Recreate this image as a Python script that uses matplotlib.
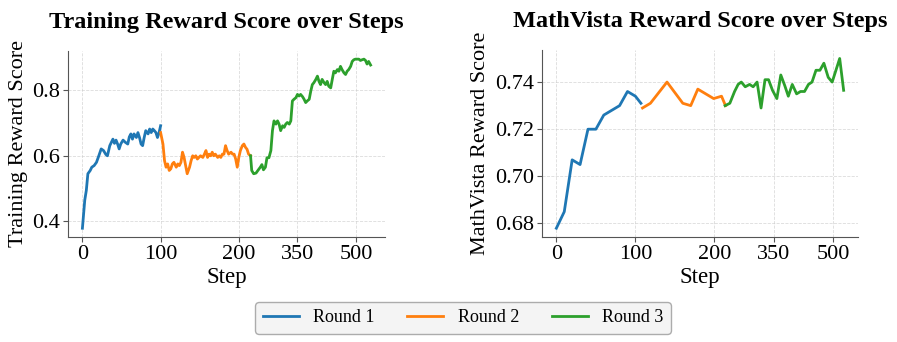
import numpy as np
import matplotlib
matplotlib.use("Agg")
import matplotlib.pyplot as plt

plt.rcParams["font.family"] = ["Liberation Serif", "DejaVu Serif"]

# training reward, per round
train_r1_steps = [0, 3, 5, 7, 10, 12, 15, 18, 21, 24, 27, 30, 32, 35, 37, 39, 41, 43, 45, 47,
                  49, 52, 55, 58, 60, 62, 64, 66, 69, 71, 73, 75, 77, 79, 81, 84, 86, 88, 90, 92,
                  94, 96, 98, 100]
train_r1 = [0.378, 0.464, 0.494, 0.545, 0.555, 0.565, 0.570, 0.580, 0.600, 0.621, 0.616, 0.604,
            0.600, 0.631, 0.641, 0.651, 0.638, 0.648, 0.636, 0.621, 0.636, 0.648, 0.641, 0.636,
            0.658, 0.667, 0.651, 0.667, 0.656, 0.671, 0.656, 0.636, 0.631, 0.656, 0.677, 0.667,
            0.682, 0.671, 0.682, 0.677, 0.671, 0.656, 0.671, 0.692]

train_r2_steps = [100, 103, 105, 107, 109, 111, 113, 115, 117, 120, 122, 124, 126, 128, 130, 132,
                  134, 137, 139, 141, 143, 145, 147, 149, 151, 154, 156, 158, 160, 162, 164, 166,
                  168, 170, 173, 175, 177, 179, 181, 183, 185, 187, 190, 192, 194, 196, 198, 200,
                  204, 209, 213, 217, 221, 225, 230]
train_r2 = [0.671, 0.636, 0.585, 0.565, 0.575, 0.555, 0.560, 0.575, 0.580, 0.565, 0.575, 0.570,
            0.580, 0.611, 0.595, 0.570, 0.545, 0.565, 0.585, 0.600, 0.595, 0.600, 0.590, 0.595,
            0.600, 0.595, 0.605, 0.616, 0.595, 0.605, 0.600, 0.611, 0.600, 0.605, 0.595, 0.600,
            0.595, 0.605, 0.605, 0.631, 0.616, 0.605, 0.611, 0.605, 0.605, 0.590, 0.565, 0.595,
            0.616, 0.631, 0.636, 0.626, 0.620, 0.605, 0.600]

train_r3_steps = [230, 233, 238, 244, 250, 255, 259, 263, 268, 272, 277, 282, 286, 290, 295, 299,
                  303, 307, 312, 316, 320, 324, 329, 333, 337, 341, 346, 350, 354, 358, 363, 367,
                  371, 375, 380, 384, 388, 392, 397, 401, 405, 409, 413, 418, 422, 426, 430, 435,
                  439, 443, 447, 452, 456, 460, 464, 469, 473, 477, 481, 486, 490, 494, 498, 503,
                  507, 511, 515, 520, 524, 528, 532, 537]
train_r3 = [0.600, 0.555, 0.545, 0.547, 0.557, 0.565, 0.573, 0.557, 0.565, 0.594, 0.594, 0.616,
            0.677, 0.707, 0.697, 0.707, 0.697, 0.677, 0.692, 0.687, 0.697, 0.702, 0.697, 0.707,
            0.768, 0.773, 0.778, 0.788, 0.783, 0.788, 0.781, 0.773, 0.763, 0.768, 0.773, 0.798,
            0.818, 0.824, 0.834, 0.844, 0.828, 0.818, 0.834, 0.824, 0.818, 0.828, 0.813, 0.808,
            0.834, 0.859, 0.854, 0.864, 0.859, 0.874, 0.864, 0.854, 0.849, 0.859, 0.864, 0.874,
            0.889, 0.894, 0.896, 0.896, 0.896, 0.892, 0.894, 0.896, 0.892, 0.881, 0.889, 0.878]

# MathVista eval reward, per round
mv_r1_steps = [0, 10, 20, 30, 40, 50, 60, 70, 80, 90, 100, 107]
mv_r1 = [0.678, 0.685, 0.707, 0.705, 0.720, 0.720, 0.726, 0.728, 0.730, 0.736, 0.734, 0.731]

mv_r2_steps = [109, 119, 140, 160, 170, 179, 199, 218, 228]
mv_r2 = [0.729, 0.731, 0.740, 0.731, 0.730, 0.737, 0.733, 0.734, 0.730]

mv_r3_steps = [227, 239, 251, 260, 268, 278, 289, 298, 308, 318, 328, 337, 347, 358, 368, 378,
               387, 397, 408, 418, 428, 438, 447, 457, 467, 477, 488, 498, 517, 527]
mv_r3 = [0.730, 0.731, 0.736, 0.739, 0.740, 0.738, 0.739, 0.738, 0.740, 0.729, 0.741, 0.741,
         0.7365, 0.733, 0.743, 0.7385, 0.734, 0.739, 0.735, 0.736, 0.736, 0.739, 0.740, 0.745,
         0.745, 0.748, 0.742, 0.740, 0.750, 0.7365]

tick_steps = [0, 100, 200, 350, 500]
round_labels = ["Round 1", "Round 2", "Round 3"]
colors = ["#1f77b4", "#ff7f0e", "#2ca02c"]


# steps past 200 are drawn at half scale
def squash(steps):
    s = np.asarray(steps, dtype=float)
    return np.where(s <= 200, s, 200 + (s - 200) / 2)


fig = plt.figure(figsize=(8.97, 3.42), dpi=100)
ax1 = fig.add_axes([68 / 897, 1 - 236.7 / 342, 317 / 897, 186 / 342])
ax2 = fig.add_axes([542 / 897, 1 - 236.7 / 342, 316 / 897, 186.7 / 342])

train = [(train_r1_steps, train_r1), (train_r2_steps, train_r2), (train_r3_steps, train_r3)]
mv = [(mv_r1_steps, mv_r1), (mv_r2_steps, mv_r2), (mv_r3_steps, mv_r3)]

for ax, series, ylabel, title in [
    (ax1, train, "Training Reward Score", "Training Reward Score over Steps"),
    (ax2, mv, "MathVista Reward Score", "MathVista Reward Score over Steps"),
]:
    for (xs, ys), c, lab in zip(series, colors, round_labels):
        ax.plot(squash(xs), ys, color=c, lw=2.0, label=lab)
    ax.set_xticks(squash(tick_steps))
    ax.set_xticklabels([str(t) for t in tick_steps])
    ax.set_xlabel("Step", fontsize=16.5, labelpad=2)
    ax.set_ylabel(ylabel, fontsize=16, labelpad=3)
    ax.set_title(title, fontsize=17.5, fontweight="bold", pad=16.5)
    ax.tick_params(labelsize=16, length=3.5, color="#555555", pad=2.5)
    ax.grid(True, ls="--", lw=0.6, color="#cccccc", alpha=0.7)
    ax.spines["top"].set_visible(False)
    ax.spines["right"].set_visible(False)
    for sp in ("left", "bottom"):
        ax.spines[sp].set_color("#555555")

ax1.set_yticks([0.4, 0.6, 0.8])
ax2.set_yticks([0.68, 0.70, 0.72, 0.74])

handles, labels = ax1.get_legend_handles_labels()
fig.legend(handles, labels, loc="center", bbox_to_anchor=(463 / 897, 1 - 318 / 342),
           ncol=3, fontsize=13, frameon=True, fancybox=True, facecolor="#f2f2f2",
           edgecolor="#999999", columnspacing=1.8, handlelength=2.0)

fig.savefig("out.png", dpi=100)
